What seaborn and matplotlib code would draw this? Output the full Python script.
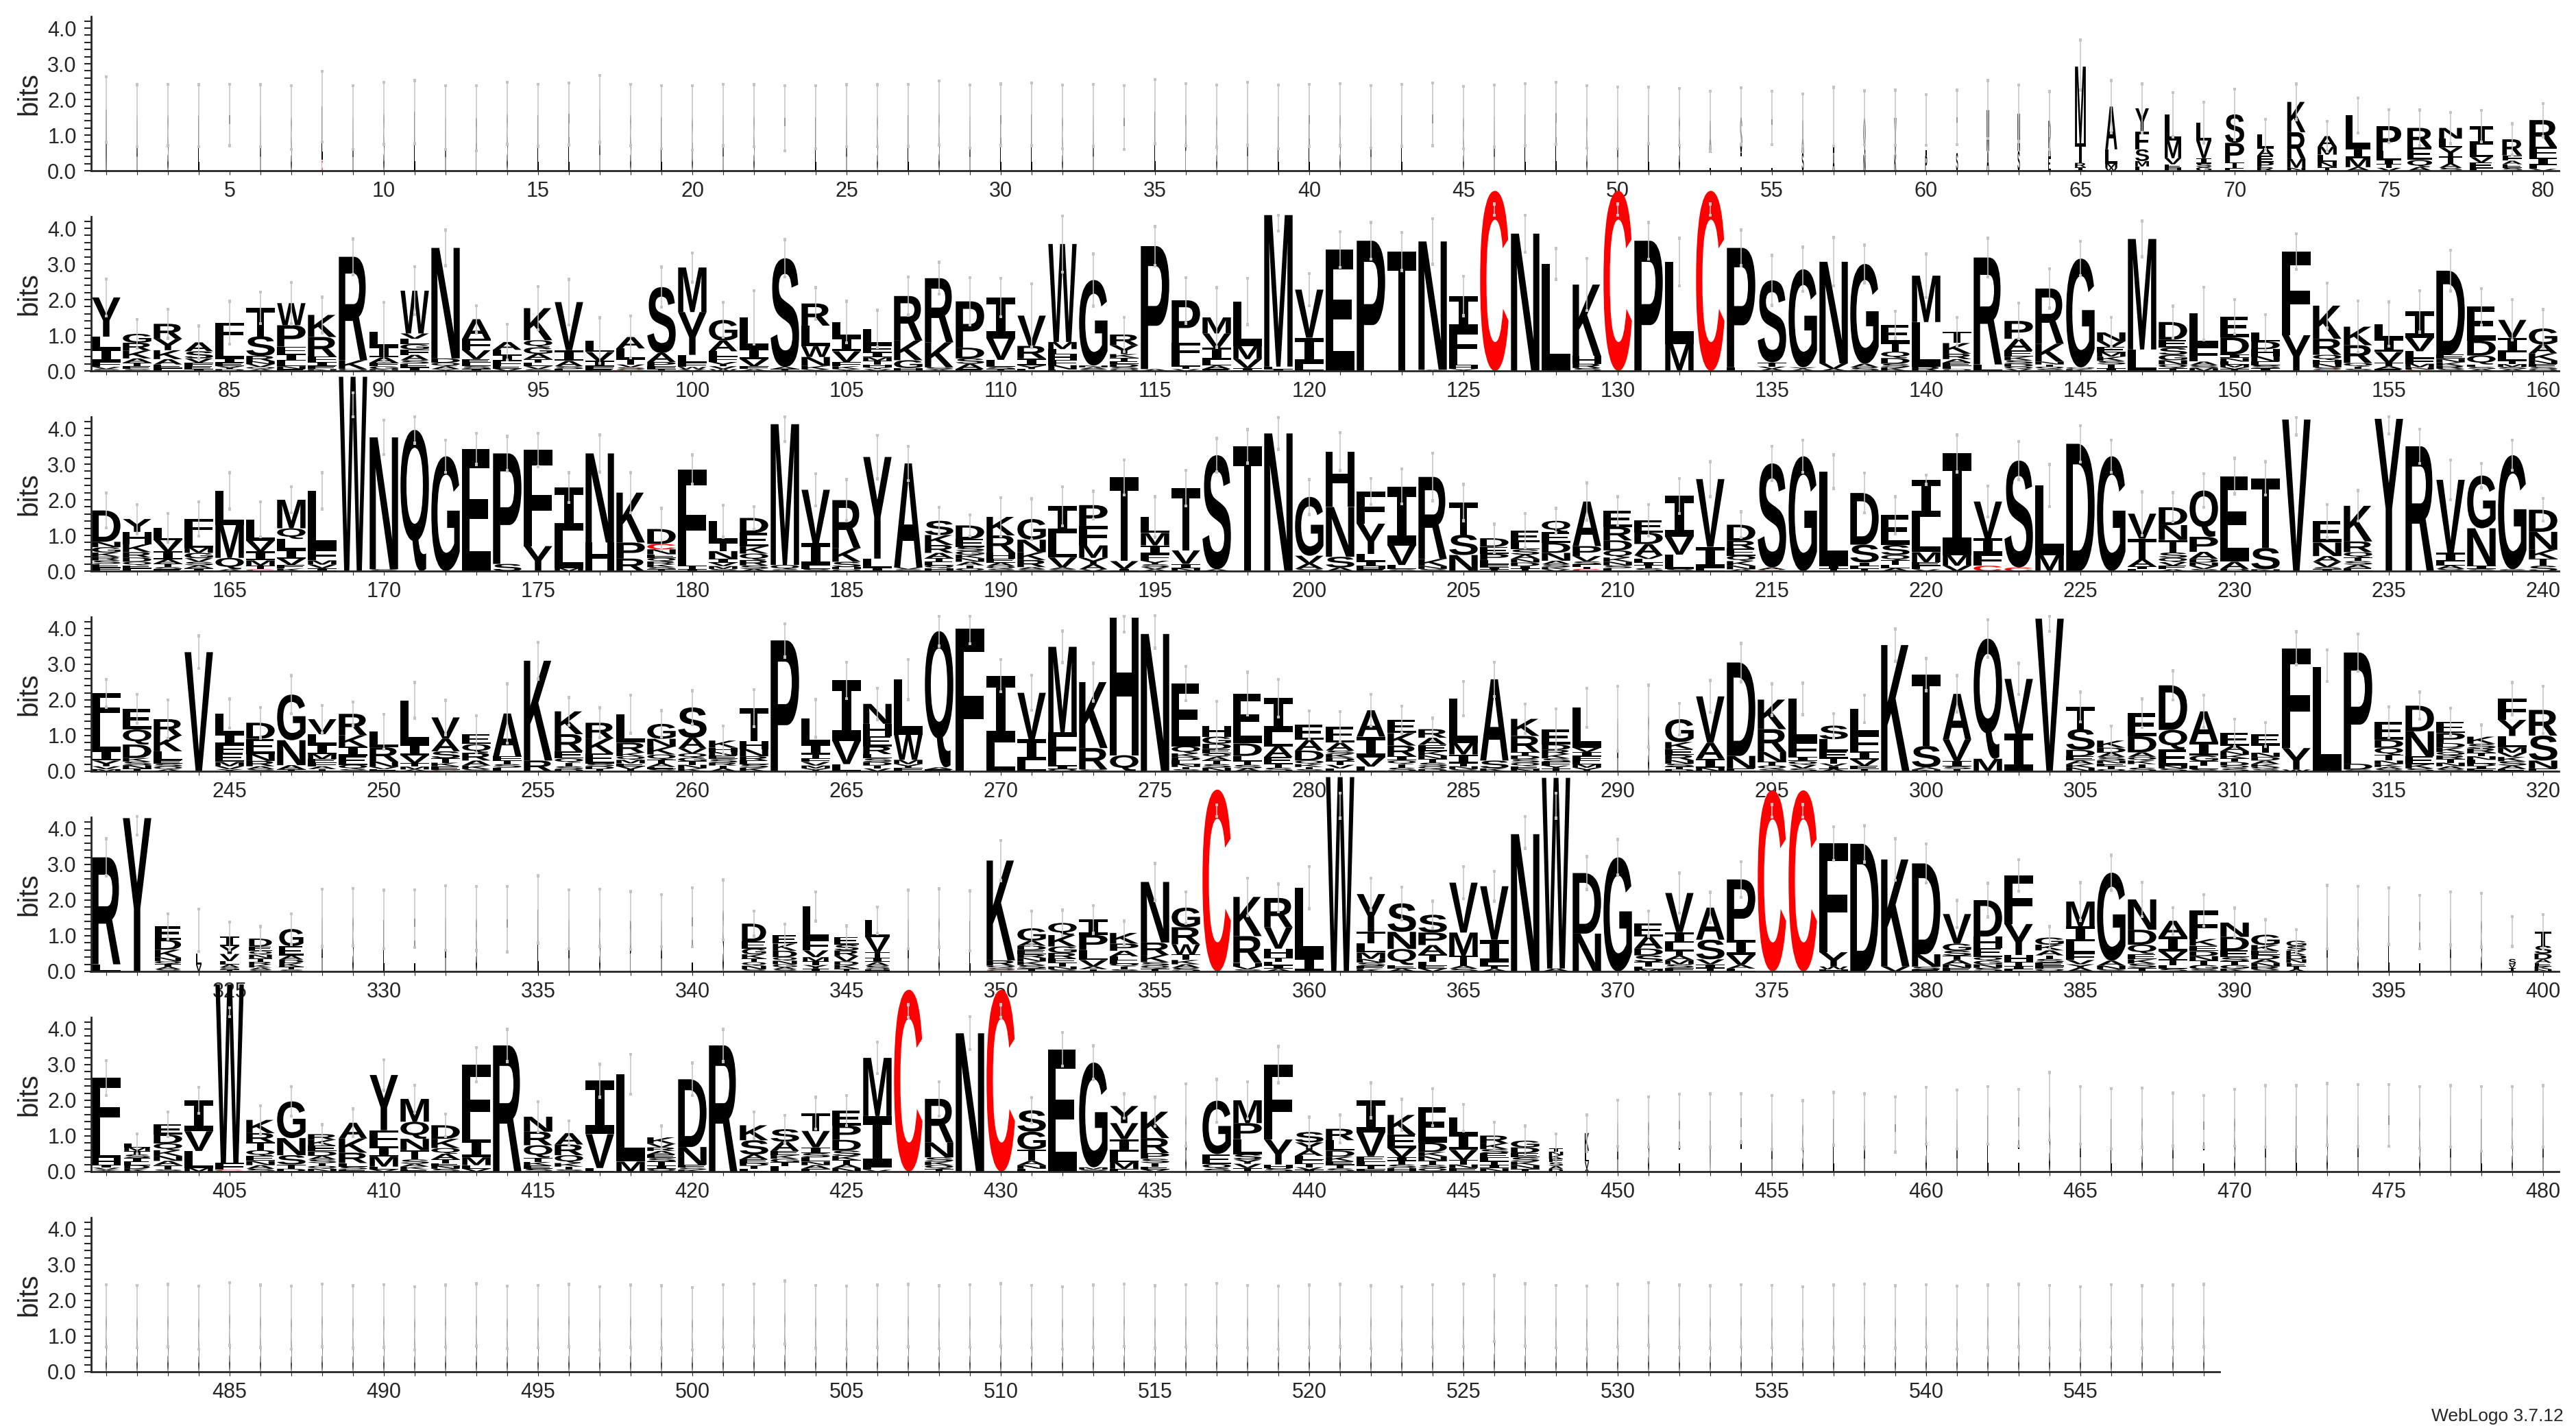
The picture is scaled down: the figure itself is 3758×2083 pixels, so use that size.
import matplotlib
matplotlib.use("Agg")
import matplotlib.pyplot as plt
import matplotlib.transforms as mtrans
from matplotlib.textpath import TextPath
from matplotlib.patches import PathPatch
from matplotlib.font_manager import FontProperties
from matplotlib.ticker import MultipleLocator, FixedLocator
import pandas as pd
import seaborn as sns

# --- style ---
sns.set_style("ticks")
plt.rcParams['font.family'] = ['Liberation Sans', 'DejaVu Sans']

# --- data: one string per position ---
# "Xh" = letter X with height h (bits), "^" = error bar top, "_" = error bar bottom,
# "~" = stack width (fraction of sequences without a gap)
row_starts = [1, 81, 161, 241, 321, 401, 481]

row1 = [
    "M1.72 ~.04 ^2.63 _.8", "A1.54 ~.04 ^2.41 _.67", "S1.56 ~.04 ^2.42 _.7", "L1.54 ~.04 ^2.41 _.67",
    "T1.56 ~.04 ^2.42 _.7", "A1.54 ~.04 ^2.41 _.67", "S1.5 ~.04 ^2.39 _.6", "C.3 L1.5 ~.04 ^2.79 _.81",
    "A1.5 ~.04 ^2.39 _.6", "S1.61 ~.04 ^2.48 _.74", "L1.65 ~.04 ^2.53 _.76", "A1.5 ~.04 ^2.39 _.6",
    "P1.48 ~.04 ^2.39 _.56", "S1.61 ~.04 ^2.48 _.74", "L1.55 ~.04 ^2.42 _.68", "E1.59 ~.04 ^2.46 _.72",
    "A1.73 ~.04 ^2.67 _.8", "S1.56 ~.04 ^2.42 _.7", "L1.5 ~.04 ^2.39 _.62", "G1.48 ~.04 ^2.39 _.58",
    "A1.56 ~.04 ^2.42 _.7", "S1.54 ~.04 ^2.41 _.67", "T1.48 ~.04 ^2.39 _.56", "L1.5 ~.04 ^2.39 _.62",
    "A1.54 ~.04 ^2.41 _.67", "S1.54 ~.04 ^2.41 _.67", "L1.55 ~.04 ^2.42 _.68", "S1.62 ~.04 ^2.52 _.72",
    "A1.52 ~.04 ^2.4 _.64", "E1.56 ~.04 ^2.43 _.7", "L1.58 ~.04 ^2.46 _.7", "S1.51 ~.04 ^2.4 _.62",
    "A1.55 ~.04 ^2.42 _.68", "T1.49 ~.04 ^2.38 _.6", "L1.66 ~.04 ^2.56 _.76", "P1.57 ~.04 ^2.44 _.7",
    "S1.53 ~.04 ^2.4 _.66", "A1.6 ~.04 ^2.48 _.72", "L1.51 ~.04 ^2.4 _.62", "E1.55 ~.04 ^2.42 _.68",
    "S1.57 ~.04 ^2.44 _.7", "A1.51 ~.04 ^2.38 _.64", "L1.55 ~.04 ^2.42 _.68", "T1.58 ~.04 ^2.46 _.7",
    "S1.49 ~.04 ^2.36 _.62", "A1.53 ~.04 ^2.4 _.66", "L1.57 ~.04 ^2.44 _.7", "E1.61 ~.04 ^2.48 _.74",
    "S1.51 ~.04 ^2.38 _.64", "A1.48 ~.04 ^2.35 _.62", "L1.55 ~.05 ^2.35 _.76", "S1.51 ~.05 ^2.31 _.71",
    "L.5 A.9 ~.07 ^2.23 _.56", "I.5 S1.0 ~.07 ^2.33 _.74", "L.45 T1.0 ~.07 ^2.23 _.73",
    "S.5 A.92 ~.07 ^2.15 _.69", "A.5 L1.0 ~.07 ^2.34 _.69", "N.45 Q1.03 ~.07 ^2.24 _.73",
    "K.45 V1.03 ~.07 ^2.26 _.71", "P.42 L1.0 ~.07 ^2.14 _.71", "S.5 T1.0 ~.07 ^2.26 _.73",
    "A.55 M1.15 ~.08 ^2.53 _.9", "S.55 N1.05 ~.08 ^2.4 _.82", "E.4 R1.0 ~.08 ^2.22 _.6",
    "M2.15 T.55 R.12 I.1 ~.38 ^3.66 _2.26", "A1.2 L.4 M.12 W.08 ~.42 ^2.53",
    "Y.65 F.5 S.33 M.15 L.12 ~.48 ^2.43", "L.72 M.5 V.17 E.1 H.08 ~.58 ^2.19",
    "V.5 L.5 I.15 G.1 S.1 ~.54 ^1.92", "S.8 P.55 T.15 E.08 ~.67 ^2.29",
    "L.4 A.2 E.18 P.14 R.1 ~.58 ^1.44", "K.85 R.75 M.25 N.08 ~.64 ^2.43",
    "A.3 M.22 L.2 N.15 T.1 ~.67 ^1.39", "L.9 I.3 M.25 A.1 ~.87 ^2.04",
    "P.7 L.25 I.12 T.1 V.08 ~.87 ^1.71", "R.55 E.35 Q.2 A.1 ~.87 ^1.7",
    "N.3 Y.25 T.2 L.25 A.12 S.08 ~.8 ^1.64", "I.52 L.35 E.15 V.15 F.08 ~.8 ^1.69",
    "R.45 F.15 E.1 A.1 S.08 ~.7 ^1.32", "R.75 F.3 I.22 L.1 V.05 ~.96 ^1.89",
]

row2 = [
    "Y1.1 I.35 L.35 F.15 V.06 S.05 ^2.58", "G.25 K.22 R.22 A.12 T.1 E.08 S.05 ^1.44",
    "R.42 Y.32 K.25 A.15 E.1 F.08 ^1.73", "A.25 S.2 V.12 F.1 E.08 I.05 ^1.26",
    "F.55 L.45 I.12 E.1 Y.08 D.05 ^1.95", "T.8 S.55 R.15 V.08 N.08 Q.06 A.05 ^2.21",
    "W.62 P.6 I.2 F.2 L.15 N.08 E.05 ^2.48", "K.62 R.55 F.15 I.12 E.08 N.05 ^2.07",
    "R2.9 K.25 Q.05 ^3.7", "L.42 I.3 A.15 F.1 G.08 N.05 ^1.92",
    "W1.2 A.15 F.15 G.15 L.15 V.15 I.1 E.1 S.1 ^2.92", "N3.1 D.12 Q.1 A.08 Y.05 ^3.95",
    "A.55 F.32 V.25 L.1 E.1 S.08 I.05 ^1.83", "A.22 F.15 I.15 L.15 E.08 V.06 ^1.31",
    "K.9 G.18 Q.2 A.15 L.1 T.1 V.08 S.05 ^2.37", "V1.35 I.3 A.15 S.08 L.05 ^2.57",
    "L.32 V.25 I.15 F.08 E.05 ^1.49", "A.32 L.3 T.15 V.08 S.06 C.04 ^1.54",
    "S1.85 A.25 P.12 F.08 T.05 ^2.91", "M1.25 Y1.2 L.22 F.12 W.06 V.05 ^3.31",
    "G.58 A.3 F.15 L.15 Y.12 V.08 W.05 ^1.92", "L.87 I.3 V.2 F.08 A.05 ^2.25",
    "S3.05 A.06 T.05 ^3.68", "R.62 L.58 W.3 N.25 K.1 Y.04 ^2.34",
    "L.42 I.4 V.3 F.12 K.08 Y.05 ^1.95", "L.45 F.2 I.15 T.1 M.1 H.08 V.05 Y.05 ^1.7",
    "R1.25 K.55 G.22 H.08 ^2.63", "R1.8 K.7 S.06 A.04 ^3.05",
    "P1.3 D.3 A.15 S.15 E.05 ^2.61", "I1.15 V.6 L.2 S.06 T.05 ^2.6",
    "V.85 R.35 I.2 Y.1 L.05 ^2.44", "W2.75 M.2 F.15 H.15 L.15 N.12 E.04 ^4.35",
    "G2.4 S.05 A.05 N.05 ^3.28", "R.3 Y.25 T.1 K.1 D.08 E.08 S.06 Q.05 ^1.5",
    "P3.45 A.05 ^4.05", "P1.2 F.45 L.2 T.08 V.05 ^2.62",
    "M.45 V.4 I.35 L.15 A.1 E.05 ^2.34", "L1.25 M.37 V.25 I.08 ^2.6",
    "M4.25 L.07 I.05 ^4.37 _3.92", "V1.35 I.73 L.2 ^2.73",
    "E3.4 ^3.9", "P3.65 ^4.16", "T3.35 ^3.88", "N3.6 A.03 ^4.27",
    "I.95 F.85 L.15 H.1 Y.05 ^2.65", "C5.05 ^4.68 _4.36", "N3.85 ^4.37", "L3.0 ^3.43",
    "K2.0 H.22 R.12 S.08 ^3.15", "C5.05 ^4.68 _4.36", "P3.65 ^4.16", "L2.3 M.75 ^3.72",
    "C5.05 ^4.68 _4.36", "P3.35 L.1 ^3.95", "S2.3 T.12 A.06 V.06 ^3.24", "G2.75 A.05 Y.05 ^3.47",
    "N2.85 V.15 A.06 ^3.74", "G2.8 S.1 A.1 ^3.53",
    "E.5 T.25 Q.18 D.16 K.1 S.1 ^1.67", "M1.3 L1.25 R.12 ^3.28",
    "T.32 K.3 R.15 E.1 A.1 L.08 Q.05 ^1.5", "R3.0 L.18 ^3.72",
    "P.5 A.33 E.17 S.1 K.1 D.08 V.06 Q.06 ^1.9", "R1.55 K.5 N.08 S.06 Q.06 T.06 ^2.86",
    "G3.05 K.05 Q.05 ^3.63", "N.25 V.16 E.15 K.12 M.12 T.1 S.1 I.08 ^1.5",
    "M3.1 L.6 ^4.2", "D.5 E.22 S.2 G.15 N.12 Q.1 T.08 ^1.82",
    "L.9 F.45 A.1 M.08 S.08 ^2.35", "E.58 D.48 N.1 I.1 M.08 L.08 T.05 V.05 ^2.0",
    "L.25 D.22 H.2 N.15 E.1 I.08 S.08 ^1.58", "F2.35 Y1.0 ^3.85",
    "K.93 R.45 Q.15 N.1 H.1 S.06 C.04 ^2.46", "K.52 R.5 Q.1 S.06 T.06 ^1.96",
    "L.4 I.38 V.3 T.1 A.08 E.05 ^1.93", "I.74 V.38 L.2 F.15 M.1 N.06 C.04 ^2.25",
    "D2.35 E.12 K.1 N.1 R.08 S.06 ^3.38", "E.95 D.42 Q.25 L.07 S.06 A.05 ^2.31",
    "V.5 I.42 L.22 T.1 M.08 S.06 A.05 ^2.0", "G.45 A.25 K.2 N.1 E.08 S.06 Q.05 ^1.72",
]

row3 = [
    "D.88 G.15 N.15 K.12 F.1 E.1 S.1 R.1 ^2.19", "Y.36 H.35 K.22 R.15 D.12 Q.1 F.08 E.08 ^1.87",
    "L.35 V.32 I.22 A.12 T.1 S.06 E.05 ^1.62", "F.48 L.32 G.15 M.15 S.1 V.1 I.08 A.08 ^1.94",
    "L.96 M.92 Q.32 A.05 ^2.76", "L.6 V.3 I.25 M.15 T.1 C.05 ^1.94",
    "M.8 L.3 Q.3 I.25 V.18 E.1 K.07 ^2.36", "L1.65 F.3 M.12 V.1 I.08 ^2.76",
    "W5.45 ^5.0 _4.33", "N3.7 S.05 ^4.23", "Q3.96 ^4.33", "G3.22 ^3.67", "E3.43 ^3.87",
    "P3.1 S.2 ^3.78", "F2.7 Y.7 ^3.87", "I1.2 L1.06 M.08 ^2.76", "N2.5 H.8 ^3.82",
    "K1.4 P.45 R.35 ^2.76", "D.42 C.15 N.14 Q.1 E.1 K.08 R.08 S.06 T.05 ^1.76",
    "F2.7 T.1 I.05 ^3.26", "L.58 T.26 N.22 V.1 I.1 M.08 S.06 ^1.85",
    "D.42 E.38 K.2 Q.18 R.15 S.1 A.06 ^1.81", "M3.95 Q.12 S.05 ^4.33 _3.63",
    "V1.5 I.62 L.1 S.06 ^2.73", "R1.35 K.38 S.15 H.06 Q.05 ^2.57", "Y2.85 L.25 I.1 ^3.81",
    "A2.92 S.05 V.05 ^3.5", "S.4 K.28 R.22 A.15 E.1 T.1 H.08 Q.08 ^1.79",
    "D.38 E.22 S.12 A.1 N.1 K.1 G.1 Q.08 T.08 ^1.58", "K.52 R.48 H.18 A.1 E.1 Q.08 S.06 ^2.06",
    "G.58 N.35 K.22 R.2 A.06 S.05 ^2.03", "I.77 L.67 V.28 S.05 A.05 ^2.37",
    "P.58 F.55 M.35 Y.18 A.14 V.05 ^2.24", "T2.35 V.22 I.06 ^3.12",
    "L.45 M.35 I.25 F.18 Y.1 S.08 V.06 A.05 ^2.09", "T1.75 V.38 I.12 N.08 ^2.83",
    "S3.2 A.05 ^3.72", "T3.5 ^3.97", "N3.86 ^4.31", "G1.65 V.22 A.15 S.06 ^2.57",
    "H1.55 N1.4 S.3 A.1 ^3.88", "F.9 Y.85 L.2 I.15 H.08 E.05 ^2.6",
    "I1.65 V.55 L.12 S.05 ^2.86", "R2.3 K.2 N.08 S.06 ^3.31", "T.9 S.57 N.45 ^2.43",
    "D.24 E.2 P.17 L.12 F.08 I.06 T.05 ^1.32", "E.32 L.2 S.15 A.12 D.1 N.1 I.08 T.06 ^1.61",
    "Q.32 E.3 D.28 N.22 A.1 S.08 K.06 V.05 ^1.76", "A1.25 P.28 V.15 S.08 F.07 C.06 T.06 ^2.47",
    "E.45 R.38 D.28 Q.2 K.12 N.1 L.08 S.08 ^2.09", "E.35 A.32 D.32 L.1 V.1 S.08 T.08 I.08 ^1.87",
    "I1.15 V.5 L.4 S.06 ^2.6", "V1.9 I.6 L.08 ^3.07", "D.45 R.22 E.2 Q.15 K.13 N.1 A.05 ^1.66",
    "S2.92 A.06 C.04 ^3.5", "G3.22 ^3.67", "L2.63 I.1 T.06 ^3.26",
    "D1.45 S.5 I.1 L.08 T.06 ^2.75", "E.84 S.28 Q.15 T.12 L.1 A.08 ^2.09",
    "I1.05 L.98 M.28 F.1 E.1 V.05 ^2.69", "I2.85 M.3 V.15 ^3.82", "V1.03 I.45 F.32 C.15 ^2.38",
    "S3.0 C.1 ^3.63", "L1.95 M.45 ^2.99", "D3.57 ^4.08", "G3.22 ^3.67",
    "V.7 T.58 A.2 I.08 L.05 ^2.22", "D.5 N.42 T.35 S.15 Q.12 E.1 V.1 A.05 ^2.2",
    "Q1.3 P.42 A.2 N.1 D.1 V.08 S.06 ^2.73", "E2.4 A.2 D.06 ^3.16", "T1.95 S.6 N.05 ^3.07",
    "V4.25 ^4.31 _3.82", "E.6 N.38 A.16 V.15 S.06 I.05 ^1.87",
    "K1.0 R.3 Q.15 A.1 S.1 T.1 E.08 ^2.26", "Y4.27 ^4.33 _3.85", "R3.5 ^3.98",
    "V2.05 I.25 A.1 L.1 S.06 ^3.12", "G1.48 N1.05 I.1 S.05 ^3.02", "G3.2 S.05 ^3.67",
    "D.62 N.5 K.25 T.2 S.15 ^2.04",
]

row4 = [
    "F.87 L.74 I.28 Y.16 V.08 M.06 ^2.58", "E.58 Q.42 D.38 N.1 S.1 K.1 T.07 ^2.15",
    "R.46 K.44 L.25 E.1 Q.08 S.08 A.05 ^2.0", "V3.34 ^3.8",
    "L.58 I.28 E.25 F.25 M.12 V.08 Y.06 ^2.03", "D.45 E.42 N.2 R.15 A.08 S.06 ^1.79",
    "G1.28 N.7 A.12 T.05 ^2.68", "V.42 I.28 L.28 M.14 F.1 E.1 A.08 T.06 ^1.85",
    "R.6 K.32 I.26 E.25 Q.12 S.06 ^1.94", "L.44 R.4 N.15 E.06 V.06 ^1.6",
    "L1.22 I.32 V.22 T.1 M.08 A.05 ^2.49", "V.6 A.35 S.2 T.12 E.1 K.1 C.04 ^1.99",
    "E.28 Q.24 R.22 A.14 K.1 S.06 ^1.56", "A1.2 F.12 L.1 S.1 T.1 ^2.45", "K2.8 R.3 ^3.61",
    "K.64 R.48 E.2 Q.12 T.1 S.08 D.06 ^2.07", "R.44 K.42 E.28 D.08 S.08 T.06 ^1.78",
    "L.8 R.28 M.1 Q.1 K.1 V.08 E.08 T.06 ^2.13", "G.42 K.22 N.22 Q.15 A.1 T.1 S.06 E.06 ^1.7",
    "S.85 A.3 V.14 Q.12 N.1 T.1 G.1 K.08 ^2.26", "K.2 H.12 S.1 E.1 N.1 A.08 T.08 R.08 ^1.27",
    "T.93 H.22 N.2 R.12 K.1 S.1 E.1 ^2.29", "P3.67 ^4.14",
    "L.72 I.28 T.12 V.1 F.1 Y.08 M.08 ^2.01", "I1.7 V.65 L.2 ^3.06",
    "N.56 H.35 E.28 R.22 L.12 D.1 S.1 V.08 T.08 ^2.33", "L1.55 W.7 M.12 F.1 Y.1 ^3.13",
    "Q3.82 A.06 E.05 ^4.35", "F4.0 ^4.35 _3.58", "I1.88 L.8 ^3.13", "V1.3 I.6 L.3 ^2.69",
    "M2.4 F.83 I.1 L.1 Q.06 ^3.93", "K1.85 R.6 S.05 ^3.03", "H3.85 Q.45 ^4.35 _3.9",
    "N3.85 ^4.37 _3.45", "E1.76 Q.2 L.1 D.1 K.1 N.08 S.06 T.06 ^2.94",
    "H.3 G.2 D.15 E.12 N.1 S.1 T.1 A.1 Q.1 ^1.96", "E1.4 D.35 L.15 S.1 T.1 A.08 ^2.78",
    "I.95 L.4 A.3 E.2 S.1 T.1 ^2.58", "E.42 A.3 D.28 Q.1 K.08 S.06 T.06 ^1.69",
    "E.45 A.22 V.1 T.1 D.1 K.1 S.1 L.08 ^1.67", "A.74 I.58 V.26 L.13 ^2.15",
    "E.38 K.35 R.3 I.12 S.1 T.1 Q.1 ^1.83", "R.24 A.2 E.18 K.12 S.1 T.1 N.1 Q.08 D.06 ^1.49",
    "L1.25 M.32 I.25 N.08 T.08 S.06 ^2.52", "A2.28 S.22 K.08 ^3.06",
    "K.48 R.45 Q.1 S.1 D.1 T.1 E.08 N.06 ^1.88", "E.42 D.15 K.12 R.12 F.1 S.1 T.08 Y.08 ^1.75",
    "L1.12 F.12 I.12 V.12 Y.1 M.1 E.1 ^2.33", "A1.47 ~.05 ^2.39 _.56", "S1.55 ~.05 ^2.41 _.68",
    "G.64 K.2 E.16 R.15 N.1 S.08 T.07 D.06 ^1.9", "V1.3 A.45 I.25 N.1 ^2.55",
    "D2.62 N.35 E.08 ^3.59", "K.83 R.64 N.28 Q.1 T.1 S.06 ^2.45",
    "L1.18 F.45 I.12 V.1 Q.1 S.08 ^2.47", "S.38 L.35 E.18 T.15 I.08 V.08 A.06 ^1.62",
    "L.7 F.5 I.22 V.18 E.08 T.07 ^2.13", "K3.54 ^3.99", "T2.0 S.6 A.06 N.05 ^3.16",
    "A1.28 V.6 I.16 S.07 T.06 ^2.68", "Q3.37 M.35 ^4.25", "V1.54 I1.05 ^3.03",
    "V4.28 ^4.35 _3.92", "T.62 S.58 D.18 E.12 N.1 K.1 A.1 ^2.22",
    "K.2 D.14 A.12 S.1 T.08 E.08 N.08 Q.06 ^1.27", "E.65 D.45 A.13 S.1 T.1 K.1 Q.1 ^2.03",
    "D1.25 Q.55 E.45 S.08 N.08 ^2.82", "A.86 I.38 G.16 T.12 L.1 S.06 ^2.13",
    "E.35 A.16 D.1 T.1 K.1 N.1 S.08 Q.08 ^1.46", "E.29 T.22 N.12 A.1 D.1 K.08 S.06 Q.06 ^1.37",
    "F2.8 Y.6 W.05 ^3.91", "L2.92 ^3.4 _2.52", "P3.12 D.16 S.05 ^3.85",
    "E.5 D.22 Q.2 T.16 N.1 K.08 S.06 A.06 ^1.81", "D.72 N.7 E.22 K.12 S.08 ^2.22",
    "E.32 P.28 D.13 K.12 N.1 T.1 R.1 Q.1 A.08 S.06 ^1.77",
    "K.2 S.13 R.12 L.1 N.1 T.1 I.08 D.08 E.06 ^1.3",
    "F.6 Y.45 L.32 M.15 S.12 K.12 V.12 A.1 E.06 ^2.49", "R.72 S.7 N.22 E.08 ^2.38",
]

row5 = [
    "R3.0 L.2 ^3.72", "Y4.3 ^4.35 _3.83",
    "E.37 D.28 K.22 N.1 T.08 Q.08 A.07 S.06 ~.92 ^1.61", "L.3 V.2 ~.2 ^1.75 _.56",
    "I.28 Y.22 V.2 L.1 A.08 S.06 T.05 ~.7 ^1.38", "D.22 E.13 T.1 N.1 Q.1 K.08 R.08 A.06 S.05 ~.8 ^1.26",
    "G.48 E.26 A.12 K.1 D.1 T.08 S.05 ~.85 ^1.62",
    "A1.5 ~.05 ^2.31 _.7", "S1.52 ~.05 ^2.33 _.72", "L1.45 ~.05 ^2.28 _.63", "E1.48 ~.05 ^2.29 _.67",
    "A1.5 ~.05 ^2.4 _.6", "S1.48 ~.05 ^2.38 _.59", "T1.47 ~.05 ^2.38 _.55", "L1.74 ~.05 ^2.68 _.8",
    "A1.46 ~.05 ^2.29 _.63", "S1.5 ~.05 ^2.31 _.7", "P1.42 ~.05 ^2.24 _.61", "A1.42 ~.05 ^2.15 _.69",
    "E1.52 ~.05 ^2.35 _.69", "S1.72 ~.05 ^2.57 _.88",
    "D.5 E.2 G.16 K.12 N.1 Q.1 T.1 S.06 ~.85 ^1.69", "E.24 K.2 D.18 N.1 Q.1 G.08 S.06 A.06 ~.85 ^1.33",
    "L.93 F.3 V.19 M.12 Y.1 T.1 I.08 ~.9 ^2.23", "E.22 R.16 S.16 V.15 K.1 D.1 T.08 ~.85 ^1.28",
    "L.48 V.42 T.16 I.12 S.1 A.1 H.06 ~.85 ^1.81",
    "A1.46 ~.05 ^2.28 _.64", "S1.5 ~.05 ^2.32 _.68", "L1.42 ~.05 ^2.26 _.58",
    "K2.8 R.15 S.06 Q.06 C.04 ^3.67", "G.35 A.14 E.12 D.12 S.1 K.1 N.1 R.1 T.08 ^1.69",
    "Q.34 K.32 G.18 R.16 E.12 T.1 N.08 S.06 ^1.72", "I.44 P.42 L.28 V.18 A.08 T.06 ^1.85",
    "K.3 P.2 A.16 E.1 L.1 T.08 Q.08 S.06 ^1.41", "N1.7 R.35 K.2 S.1 T.08 Q.08 ^3.03",
    "G.55 R.48 W.28 T.16 K.12 S.1 A.1 ^2.23", "C5.1 ^4.67 _4.35",
    "K1.1 R.75 H.1 V.08 S.06 ^2.62", "R.82 V.6 H.25 T.12 I.1 L.1 A.07 ^2.45",
    "L1.95 I.4 ^2.94", "W5.45 ^5.0 _4.3", "Y1.05 T.33 L.26 M.18 S.1 N.1 E.08 K.07 ^2.62",
    "S.8 N.48 Q.45 E.1 A.08 ^2.37", "S.5 P.35 A.26 T.22 L.1 V.08 E.08 ^1.97",
    "V1.4 M.65 T.28 S.08 A.08 ^2.94", "V1.5 I.64 L.1 T.08 A.07 ^2.81", "N3.85 ^4.35 _3.45",
    "W5.35 A.08 ^5.0 _4.3", "D1.7 N1.06 ^3.22", "G3.2 ^3.7",
    "E.36 A.34 S.19 D.19 T.12 L.08 M.06 ^1.69", "V1.1 I.3 L.22 T.14 M.12 A.12 F.1 S.1 ^2.76",
    "A.9 S.55 V.14 T.1 I.1 ^2.22", "P1.7 I.42 V.28 A.1 L.08 ^3.08",
    "C5.08 ^4.68 _4.33", "C5.08 ^4.68 _4.33", "F3.05 Y.4 W.08 H.06 ^4.06", "D3.58 ^4.09",
    "K3.0 V.14 ^3.72", "D2.55 N.35 S.08 E.05 ^3.58", "V.83 G.2 S.14 A.12 T.12 E.1 N.1 ^1.99",
    "D1.02 H.32 E.26 S.1 N.1 G.1 Q.1 ^2.47", "F1.36 Y.87 H.2 I.1 T.1 L.06 ^3.13",
    "G.2 K.16 A.14 E.1 S.1 T.1 F.08 Q.07 ^1.26", "M.7 I.42 L.32 F.2 V.12 A.1 Y.1 ^2.49",
    "G2.47 A.14 N.1 S.06 ^3.26", "N.85 D.42 Q.26 E.15 S.12 K.12 T.1 ^2.5",
    "A.44 I.42 V.22 T.16 L.1 S.08 ^1.79", "F.8 K.19 E.15 D.14 N.13 G.12 T.12 S.06 ^2.15",
    "N.4 D.38 E.19 S.12 G.1 T.1 K.08 ^1.78", "G.29 K.16 D.12 E.12 N.1 A.1 R.08 S.06 ^1.45",
    "G.15 S.13 D.12 K.12 E.1 N.1 T.08 A.06 ~.7 ^1.17",
    "A1.52 ~.05 ^2.41 _.64", "S1.51 ~.05 ^2.39 _.63", "L1.55 ~.05 ^2.35 _.76",
    "E1.38 ~.05 ^2.13 _.64", "A1.48 ~.05 ^2.23 _.74", "S1.43 ~.05 ^2.19 _.68",
    "S.15 I.1 V.1 ~.25 ^1.54 _.7", "T.4 S.22 D.16 E.1 A.1 K.08 N.06 ~.6 ^1.6",
]

row6 = [
    "F1.75 L.5 H.19 I.08 V.06 Y.05 ^3.12", "D.1 E.1 I.1 S.1 T.1 M.1 L.1 K.08 ~.9 ^1.06",
    "E.29 D.25 Q.19 K.16 N.14 T.12 A.12 S.06 ^1.67", "I.87 V.55 L.48 M.1 ^2.36",
    "W5.0 F.2 C.05 ^4.6 _4.35", "K.37 R.26 T.22 Q.16 E.14 N.12 A.1 S.08 ^1.85",
    "G1.03 N.48 S.26 T.12 D.08 ^2.38", "E.16 K.16 R.16 D.13 S.1 A.1 N.08 Q.08 T.08 ^1.32",
    "A.44 K.4 R.29 L.1 S.08 E.06 ^1.76", "Y1.55 F.45 I.29 M.28 L.08 V.06 ^3.14",
    "M.64 Q.48 N.32 T.26 S.12 K.08 A.08 E.06 ^2.42", "D.38 K.26 A.16 Q.16 T.1 S.08 N.08 E.08 ^1.62",
    "F2.1 I.5 M.22 L.1 V.08 ^3.48", "R3.54 ^3.99", "N.42 R.38 Q.35 T.12 K.1 E.09 S.08 ^1.96",
    "A.32 R.3 Q.22 K.1 T.08 S.06 ^1.42", "I1.5 V.95 L.1 ^3.01", "L2.45 M.28 ^3.29",
    "K.18 I.1 T.1 S.1 E.1 A.1 R.1 V.1 Q.08 ^1.28", "D1.9 N.5 E.08 S.06 K.05 ^3.05", "R3.54 ^3.99",
    "K.42 S.4 A.14 E.1 L.08 T.08 D.08 ^1.67", "S.35 A.26 E.12 T.1 G.1 K.1 L.08 F.08 ^1.58",
    "T.5 V.46 I.16 L.12 S.12 A.1 N.1 F.08 ^2.09", "E.42 P.4 D.3 S.15 T.12 K.12 N.1 A.1 ^2.13",
    "M1.63 I1.44 L.07 V.05 ^3.63", "C5.1 ^4.68 _4.33", "R1.22 N.42 S.12 Q.1 K.1 T.08 ^2.52",
    "N3.88 ^4.35 _3.42", "C5.1 ^4.68 _4.33", "S.6 G.5 T.32 A.12 N.1 L.08 ^2.08", "E3.43 ^3.9",
    "G2.94 S.06 M.06 ^3.53", "Y.48 V.45 I.35 L.29 M.19 F.08 ^2.18",
    "K.74 R.42 P.16 S.12 T.1 E.08 V.06 ^2.09", "G1.6 ~.05 ^2.46 _.71",
    "G1.5 E.28 Q.13 S.08 ^2.59", "M.64 P.45 L.42 S.15 V.12 Y.12 T.1 ^2.52",
    "F2.1 Y.7 S.1 H.1 ^3.51", "S.29 Y.22 A.16 L.12 T.1 E.1 V.07 I.05 ^1.53",
    "R.32 L.29 D.17 K.13 T.1 E.1 S.09 ^1.59", "I.9 V.67 E.16 T.1 L.1 F.07 ^2.49",
    "K.55 E.38 V.26 H.1 S.1 T.1 I.1 ^2.03", "E1.0 D.26 T.12 N.12 K.12 S.1 Q.09 ^2.33",
    "L.46 I.44 V.29 T.12 E.1 N.1 ^1.88", "R.22 K.16 E.12 S.12 I.1 T.1 L.1 N.09 ^1.38",
    "G.19 D.16 S.12 E.12 N.1 K.1 T.08 ^1.28", "S.1 E.1 K.1 N.1 T.1 D.08 A.08 ~.5 ^1.06",
    "K.5 L.3 V.2 A.08 ~.15 ^1.59 _.56",
    "A1.36 ~.05 ^2.0 _.71", "S1.4 ~.05 ^2.1 _.69", "E1.43 ~.05 ^2.17 _.69", "V1.43 ~.05 ^2.18 _.68",
    "E1.5 ~.05 ^2.18 _.82", "A1.38 ~.05 ^2.13 _.63", "S1.32 ~.05 ^1.99 _.64", "L1.48 ~.05 ^2.22 _.74",
    "A1.43 ~.05 ^2.18 _.69", "T1.33 ~.05 ^2.1 _.55", "S1.56 ~.05 ^2.36 _.77", "A1.46 ~.05 ^2.29 _.63",
    "L1.58 ~.05 ^2.38 _.77", "E1.51 ~.05 ^2.31 _.71", "S1.83 ~.05 ^2.78 _.88", "A1.58 ~.05 ^2.39 _.77",
    "L1.48 ~.05 ^2.33 _.63", "S1.52 ~.05 ^2.35 _.68", "A1.46 ~.05 ^2.2 _.72", "E1.41 ~.05 ^2.14 _.68",
    "S1.51 ~.05 ^2.31 _.71", "A1.55 ~.05 ^2.41 _.69", "L1.55 ~.05 ^2.41 _.69", "S1.6 ~.05 ^2.47 _.74",
    "A1.57 ~.05 ^2.44 _.71", "T1.57 ~.05 ^2.44 _.71", "S1.52 ~.05 ^2.39 _.65", "A1.55 ~.05 ^2.41 _.69",
    "L1.48 ~.05 ^2.38 _.58", "S1.53 ~.05 ^2.39 _.68", "A1.55 ~.05 ^2.41 _.69",
]

# last row: only gapped columns (481-549)
tail_hi = [2.44, 2.42, 2.45, 2.4, 2.5, 2.43, 2.4, 2.46, 2.41, 2.44, 2.39, 2.43, 2.47, 2.4, 2.42,
           2.45, 2.38, 2.43, 2.41, 2.37, 2.44, 2.46, 2.55, 2.42, 2.4, 2.43, 2.45, 2.41, 2.44, 2.47,
           2.42, 2.39, 2.43, 2.46, 2.41, 2.44, 2.48, 2.42, 2.4, 2.43, 2.45, 2.41, 2.38, 2.44, 2.46,
           2.7, 2.47, 2.42, 2.4, 2.45, 2.5, 2.43, 2.41, 2.44, 2.42, 2.39, 2.43, 2.46, 2.41, 2.44,
           2.4, 2.43, 2.45, 2.42, 2.38, 2.44, 2.41, 2.43, 2.45]
tail_lo = [.69, .67, .7, .64, .74, .68, .63, .7, .66, .68, .62, .69, .72, .65, .67,
           .7, .62, .68, .66, .61, .69, .72, .78, .66, .64, .68, .7, .65, .69, .72,
           .67, .63, .68, .71, .66, .69, .73, .67, .64, .68, .7, .65, .62, .69, .71,
           .85, .72, .67, .64, .7, .74, .68, .66, .69, .67, .63, .68, .71, .66, .69,
           .64, .68, .7, .67, .62, .69, .66, .68, .7]
tail_h = [1.56, 1.54, 1.57, 1.52, 1.62, 1.55, 1.51, 1.58, 1.53, 1.56, 1.5, 1.56, 1.6, 1.52, 1.54,
          1.57, 1.5, 1.55, 1.53, 1.49, 1.56, 1.59, 1.66, 1.54, 1.52, 1.55, 1.57, 1.53, 1.56, 1.6,
          1.54, 1.51, 1.55, 1.58, 1.53, 1.56, 1.6, 1.54, 1.52, 1.55, 1.57, 1.53, 1.5, 1.56, 1.58,
          1.77, 1.6, 1.54, 1.52, 1.57, 1.62, 1.55, 1.53, 1.56, 1.54, 1.51, 1.55, 1.58, 1.53, 1.56,
          1.52, 1.55, 1.57, 1.54, 1.5, 1.56, 1.53, 1.55, 1.57]
row7 = [f"S{h} ~.04 ^{hi} _{lo}" for h, hi, lo in zip(tail_h, tail_hi, tail_lo)]

rows = [row1, row2, row3, row4, row5, row6, row7]

# --- layout (pixels in the 3758x2083 output) ---
DPI = 100
FIG_W, FIG_H = 3758, 2083
LEFT, COL_PX = 132.5, 45
BASE0, ROW_STEP = 249, 292
PX_PER_BIT, YMAX = 52, 4.32
STACK_W = 0.92
ERR_C = '#c4c4c4'

LOGO_FONT = FontProperties(family='Liberation Sans', weight='bold')
SERIF_I = FontProperties(family='DejaVu Sans Mono', weight='bold')
_glyphs = {}


def parse(col):
    letters, hi, lo, w = [], None, None, 1.0
    for tok in col.split():
        if tok[0] == '^':
            hi = float(tok[1:])
        elif tok[0] == '_':
            lo = float(tok[1:])
        elif tok[0] == '~':
            w = float(tok[1:])
        else:
            letters.append((tok[0], float(tok[1:])))
    return letters, hi, lo, w


def glyph(ch):
    if ch not in _glyphs:
        tp = TextPath((0, 0), ch, size=1, prop=SERIF_I if ch == 'I' else LOGO_FONT)
        _glyphs[ch] = (tp, tp.get_extents())
    return _glyphs[ch]


def draw_letter(ax, ch, x, y0, w, h):
    tp, ext = glyph(ch)
    t = (mtrans.Affine2D().translate(-ext.x0, -ext.y0)
         .scale(w / ext.width, h / ext.height)
         .translate(x - w / 2, y0))
    color = '#ff0000' if ch == 'C' else 'black'
    ax.add_patch(PathPatch(t.transform_path(tp), fc=color, ec='none', lw=0,
                           clip_on=False, zorder=2))


fig = plt.figure(figsize=(FIG_W / DPI, FIG_H / DPI), dpi=DPI)

for r, (start, cols) in enumerate(zip(row_starts, rows)):
    n = len(cols)
    ax = fig.add_axes([LEFT / FIG_W, 1 - (BASE0 + ROW_STEP * r) / FIG_H,
                       n * COL_PX / FIG_W, YMAX * PX_PER_BIT / FIG_H])
    err = []
    for k, col in enumerate(cols):
        pos = start + k
        letters, hi, lo, w = parse(col)
        y = 0.0
        for ch, h in sorted(letters, key=lambda t: t[1]):
            draw_letter(ax, ch, pos, y, STACK_W * w, h)
            y += h
        if hi is not None:
            if lo is None:
                lo = max(2 * y - hi, 0)
            err.append((pos, lo, hi))
    err = pd.DataFrame(err, columns=['pos', 'lo', 'hi'])
    ax.vlines(err['pos'], err['lo'], err['hi'], color=ERR_C, lw=1.1, zorder=3, clip_on=False)
    caps = err.melt(id_vars='pos', value_name='y')
    sns.scatterplot(data=caps, x='pos', y='y', marker='s', s=10, color=ERR_C,
                    edgecolor='none', linewidth=0, legend=False, zorder=3,
                    clip_on=False, ax=ax)

    ax.set_xlim(start - 0.5, start + n - 0.5)
    ax.set_ylim(0, YMAX)
    ax.set_xlabel('')
    sns.despine(ax=ax)
    for side in ('left', 'bottom'):
        ax.spines[side].set_linewidth(2)

    ax.set_xticks([p for p in range(start, start + n) if p % 5 == 0])
    ax.xaxis.set_minor_locator(FixedLocator(list(range(start, start + n))))
    ax.tick_params(axis='x', which='both', direction='out', length=4.5, width=0.8,
                   labelsize=22, pad=6.5)
    ax.set_yticks([0, 1, 2, 3, 4])
    ax.set_yticklabels(['0.0', '1.0', '2.0', '3.0', '4.0'])
    ax.yaxis.set_minor_locator(MultipleLocator(0.2))
    ax.tick_params(axis='y', which='both', direction='out', length=7, width=1.5,
                   labelsize=22, pad=8)
    ax.set_ylabel('bits', fontsize=29)
    ax.yaxis.set_label_coords(61 / FIG_W, 0.5,
                              transform=mtrans.blended_transform_factory(fig.transFigure, ax.transAxes))

fig.text(3740 / FIG_W, 1 - 2066 / FIG_H, 'WebLogo 3.7.12', ha='right', va='center', fontsize=19)

fig.savefig('out.png', dpi=DPI)
